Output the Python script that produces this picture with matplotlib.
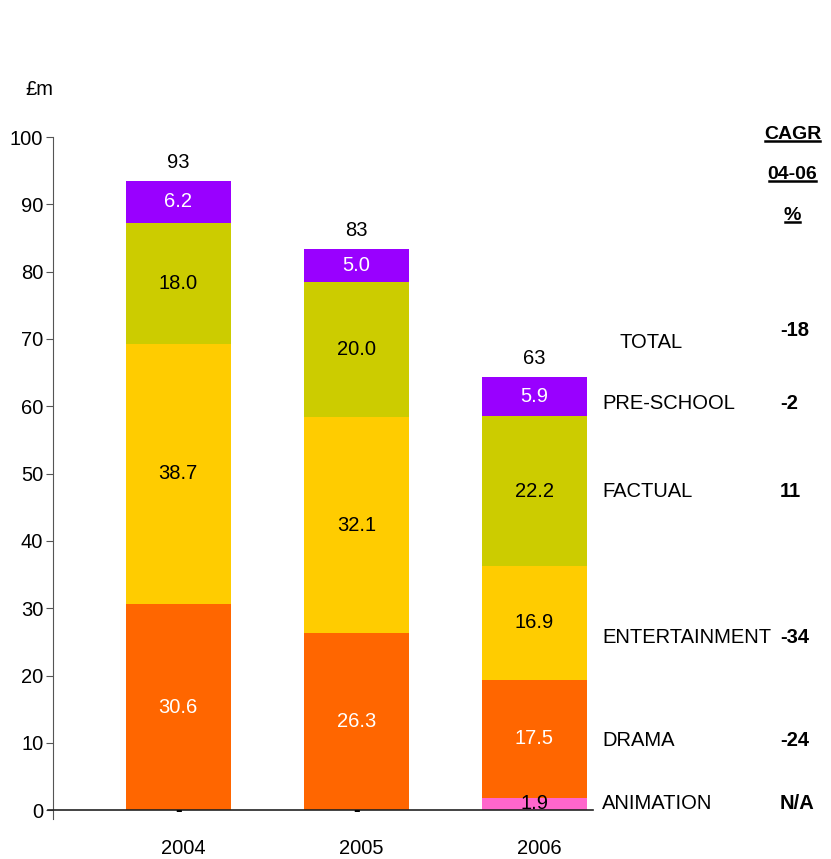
import matplotlib.pyplot as plt

plt.rcParams['font.family'] = ['Liberation Sans', 'DejaVu Sans']

years = ['2004', '2005', '2006']
animation = [0.0, 0.0, 1.9]
drama = [30.6, 26.3, 17.5]
entertainment = [38.7, 32.1, 16.9]
factual = [18.0, 20.0, 22.2]
pre_school = [6.2, 5.0, 5.9]
totals = [93, 83, 63]

genres = ['ANIMATION', 'DRAMA', 'ENTERTAINMENT', 'FACTUAL', 'PRE-SCHOOL']
cagr = ['N/A', '-24', '-34', '11', '-2']
total_cagr = '-18'

series = [animation, drama, entertainment, factual, pre_school]
colors = ['#FF66CC', '#FF6600', '#FFCC00', '#CCCC00', '#9900FF']
text_colors = ['black', 'white', 'black', 'black', 'white']

FS = 14.5

fig = plt.figure(figsize=(8.31, 8.59), dpi=100)
ax = fig.add_axes([0.0638, 0.0465, 0.9362, 0.7940])

x = list(range(len(years)))
width = 0.59
bottom = [0.0] * len(years)
for vals, col, tcol in zip(series, colors, text_colors):
    ax.bar(x, vals, width, bottom=bottom, color=col, edgecolor='none', zorder=2)
    for i, v in enumerate(vals):
        label = f'{v:.1f}' if v > 0 else '-'
        ax.text(x[i], bottom[i] + v / 2, label, ha='center', va='center',
                fontsize=FS, color=tcol if v > 0 else 'black', zorder=5,
                fontweight='normal' if v > 0 else 'bold')
    bottom = [b + v for b, v in zip(bottom, vals)]

for i, t in enumerate(totals):
    ax.text(x[i], bottom[i] + 2.7, str(t), ha='center', va='center', fontsize=FS)

ax.set_xlim(-0.704, 3.667)
ax.set_ylim(-1.3, 100)
ax.set_yticks(range(0, 101, 10))
ax.tick_params(axis='y', labelsize=FS, length=5, color='#555555', pad=2)
ax.set_xticks([])
for i, yr in enumerate(years):
    ax.text(x[i] + 0.03, -5.7, yr, ha='center', va='center', fontsize=FS)

for s in ['top', 'right', 'bottom']:
    ax.spines[s].set_visible(False)
ax.spines['left'].set_bounds(-1.3, 100)
ax.spines['left'].set_color('#555555')
ax.plot([-0.73, 2.33], [0, 0], color='#222222', lw=1.2, zorder=4, clip_on=False)

ax.text(-0.78, 107.1, '£m', ha='center', va='center', fontsize=FS, clip_on=False)

# genre names and growth rates down the right side
label_y = [1.0, 10.4, 25.7, 47.4, 60.4]
for name, rate, yy in zip(genres, cagr, label_y):
    ax.text(2.38, yy, name, ha='left', va='center', fontsize=FS)
    ax.text(3.38, yy, rate, ha='left', va='center', fontsize=FS, fontweight='bold')
ax.text(2.48, 69.5, 'TOTAL', ha='left', va='center', fontsize=FS)
ax.text(3.38, 71.2, total_cagr, ha='left', va='center', fontsize=FS, fontweight='bold')

heads = []
for txt, yy in zip(['CAGR', '04-06', '%'], [100.3, 94.5, 88.4]):
    heads.append(ax.text(3.45, yy, txt, ha='center', va='center', fontsize=FS - 0.5,
                         fontweight='bold', clip_on=False))

# underline the header lines
fig.canvas.draw()
inv = fig.transFigure.inverted()
for h in heads:
    bb = h.get_window_extent()
    (x0, y0), (x1, _) = inv.transform([[bb.x0 + 1, bb.y0 + 2], [bb.x1 - 1, bb.y0 + 2]])
    fig.add_artist(plt.Line2D([x0, x1], [y0, y0], color='black', lw=1.8))

fig.savefig('out.png', dpi=100)
